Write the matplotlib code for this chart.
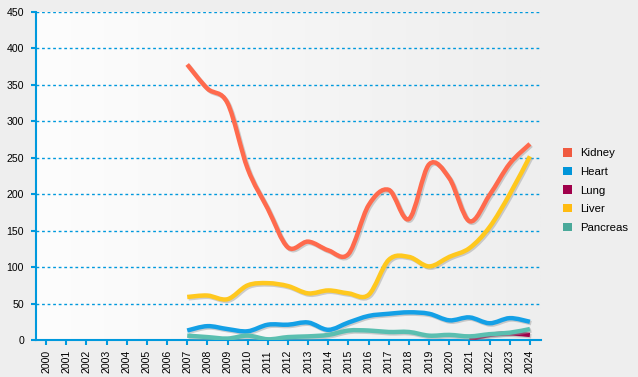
import numpy as np
import matplotlib.pyplot as plt
from matplotlib.path import Path
from matplotlib.patches import PathPatch, Patch
from matplotlib.colors import LinearSegmentedColormap
import matplotlib.patheffects as pe

plt.rcParams['font.family'] = ['Liberation Sans', 'DejaVu Sans']

years = list(range(2000, 2025))
yr_data = list(range(2007, 2025))

kidney = [378, 345, 325, 235, 180, 127, 135, 123, 118, 185, 206, 166, 241, 222, 163, 199, 242, 269]
heart = [13, 19, 15, 12, 21, 21, 24, 14, 24, 33, 36, 38, 36, 27, 31, 23, 30, 25]
liver = [59, 61, 56, 75, 78, 74, 64, 68, 64, 62, 110, 114, 101, 114, 126, 155, 200, 252]
pancreas = [6, 4, 2, 6, 1, 4, 5, 7, 13, 13, 11, 11, 6, 7, 5, 8, 10, 15]
lung_years = [2021, 2022, 2023, 2024]
lung = [1, 7, 9, 7]

names = ["Kidney", "Heart", "Lung", "Liver", "Pancreas"]
line_cols = ["#ff6a4d", "#14a0e6", "#a0004b", "#ffc81e", "#5bbfb0"]
leg_cols = ["#f05a40", "#0095d9", "#a0004b", "#ffbb11", "#4aa99a"]


def smooth_path(x, y):
    # Catmull-Rom through the points, drawn as cubic Bezier segments
    pts = np.column_stack([np.asarray(x, float), np.asarray(y, float)])
    verts = [pts[0]]
    codes = [Path.MOVETO]
    n = len(pts)
    for i in range(n - 1):
        p0 = pts[i - 1] if i > 0 else pts[i]
        p1 = pts[i]
        p2 = pts[i + 1]
        p3 = pts[i + 2] if i + 2 < n else pts[i + 1]
        verts += [p1 + (p2 - p0) / 6.0, p2 - (p3 - p1) / 6.0, p2]
        codes += [Path.CURVE4] * 3
    return Path(verts, codes)


fig = plt.figure(figsize=(6.38, 3.77), dpi=100)
fig.patch.set_facecolor("#eeeeee")
ax = fig.add_axes([36 / 638, 37 / 377, 505 / 638, 328 / 377])

# background gradient
grad = np.linspace(0, 1, 256).reshape(1, -1)
ax.imshow(grad, extent=[1999.5, 2024.55, 0, 450], aspect="auto",
          cmap=LinearSegmentedColormap.from_list("bg", ["#fdfdfd", "#eeeeee"]), zorder=0)

for yv in range(50, 451, 50):
    ax.axhline(yv, color="#0099dd", lw=1, ls=(0, (2, 2)), zorder=1)

series = [
    (yr_data, kidney, 0),
    (yr_data, heart, 1),
    (lung_years, lung, 2),
    (yr_data, liver, 3),
    (yr_data, pancreas, 4),
]
for xs, ys, k in series:
    p = PathPatch(smooth_path(xs, ys), fill=False, edgecolor=line_cols[k], lw=3.2,
                  capstyle="butt", zorder=3,
                  path_effects=[pe.SimpleLineShadow(offset=(1, -1), shadow_color="#999999", alpha=0.45),
                                pe.Normal()])
    ax.add_patch(p)

ax.set_xlim(1999.5, 2024.55)
ax.set_ylim(0, 450)
ax.set_xticks(years)
ax.set_xticklabels([str(y) for y in years], rotation=90)
ax.set_yticks(range(0, 451, 50))
for s in ["top", "right"]:
    ax.spines[s].set_visible(False)
for s in ["left", "bottom"]:
    ax.spines[s].set_color("#0099dd")
    ax.spines[s].set_linewidth(1.5)
ax.tick_params(axis="both", colors="#0099dd", labelcolor="black", labelsize=7.6,
               length=3.6, width=1.5, direction="out")
ax.tick_params(axis="y", pad=5)
ax.tick_params(axis="x", pad=3.6)

handles = [Patch(facecolor=leg_cols[i], edgecolor="none", label=names[i]) for i in range(5)]
fig.legend(handles=handles, loc="upper left", bbox_to_anchor=(553 / 638, 1 - 138 / 377),
           frameon=False, fontsize=8.2, handlelength=0.75, handleheight=0.75,
           handletextpad=0.75, labelspacing=0.74)

fig.savefig("out.png", dpi=100, facecolor=fig.get_facecolor())
